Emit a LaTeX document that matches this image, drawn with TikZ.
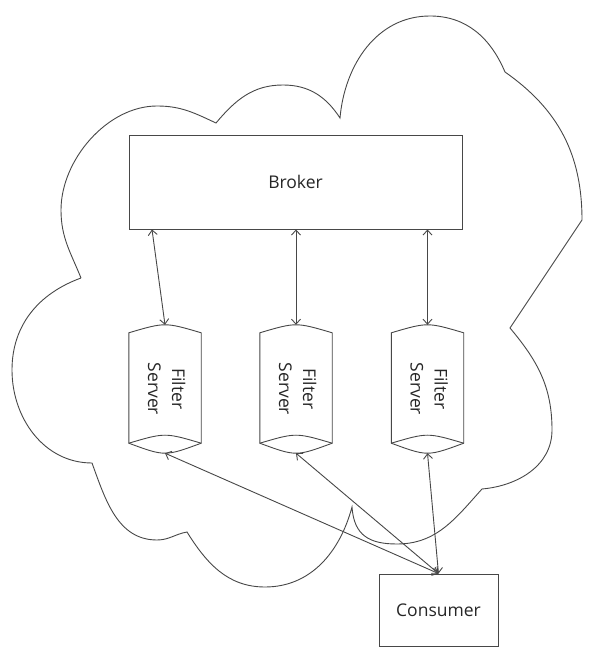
\documentclass[tikz,border=0pt]{standalone}
\usepackage{fontspec}
\setmainfont{Open Sans}
\usetikzlibrary{calc,arrows.meta}
\newcommand\fslabel{\rotatebox{-90}{\begin{tabular}{@{}c@{}}Filter\\Server\end{tabular}}}
\begin{document}
\begin{tikzpicture}[x=1pt,y=1pt,
  line/.style={line width=0.9pt, draw=black!72},
  txt/.style={font=\fontsize{17.5}{24}\selectfont, text=black!85},
  box/.style={line, txt, rectangle, inner sep=0pt},
  fsrv/.style={txt, rectangle, inner sep=0pt, minimum width=72pt, minimum height=128pt},
  link/.style={line, {Straight Barb[length=5pt,width=9pt]}-{Straight Barb[length=5pt,width=9pt]}},
  cloudline/.style={line}]
\useasboundingbox (0,0) rectangle (592,654);

% cloud outline
\draw[cloudline] (81,376) to[out=112,in=270] (61,444) to[out=90,in=180,looseness=0.9] (157,548)
  to[out=0,in=155] (216,531)
  to[out=50,in=180] (283,569) to[out=0,in=123] (340,536)
  to[out=85,in=180] (430,638) to[out=0,in=113] (505,582)
  to[out=-35,in=90] (582,434)
  -- (510,326)
  to[out=-50,in=90] (552,224) to[out=-90,in=5] (482,165)
  to[out=228,in=0] (397,110) .. controls (370,110) and (354,118) .. (352,147)
  to[out=255,in=0] (265,67) to[out=180,in=302] (187,122)
  to[out=190,in=0] (157,114) to[out=180,in=290] (92,191)
  to[out=180,in=270] (12,284) to[out=90,in=200] (81,376);

% broker
\node[box, minimum width=333pt, minimum height=94pt] (broker) at (295.5,472) {Broker};

% filter servers
\foreach \n/\x in {f1/165, f2/296, f3/427.5}{
  \node[fsrv] (\n) at (\x,265) {\fslabel};
  \draw[line] ($(\n.north west)+(0,-8)$) .. controls ($(\n.north)+(0,2.67)$) .. ($(\n.north east)+(0,-8)$)
     -- ($(\n.south east)+(0,10)$) .. controls ($(\n.south)+(0,-3.33)$) .. ($(\n.south west)+(0,10)$) -- cycle;
  \draw[line] ($(\n.south west)+(0,10)$) .. controls ($(\n.south)+(0,20.67)$) .. ($(\n.south east)+(0,10)$);
}

% consumer
\node[box, minimum width=119pt, minimum height=72pt] (cons) at (438.5,44) {Consumer};

% connectors
\draw[link] ($(f1.north |- broker.south)+(-13,0)$) -- (f1.north);
\draw[link] (f2.north |- broker.south) -- (f2.north);
\draw[link] (f3.north |- broker.south) -- (f3.north);
\draw[link] (cons.north) -- (f1.south);
\draw[link] (cons.north) -- (f2.south);
\draw[link] (cons.north) -- (f3.south);
\end{tikzpicture}
\end{document}
